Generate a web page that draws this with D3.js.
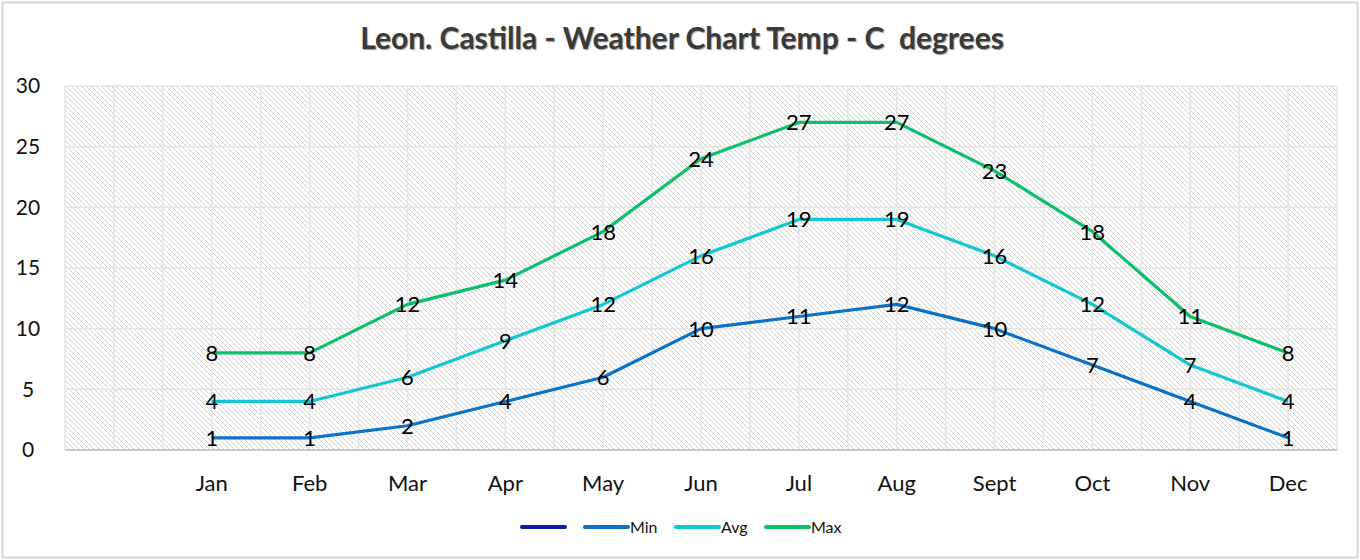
<!DOCTYPE html>
<html>
<head>
<meta charset="utf-8">
<script src="https://cdnjs.cloudflare.com/ajax/libs/d3/7.8.5/d3.min.js"></script>
<style>
  body { margin: 0; background: #fff; }
  svg { display: block; font-family: "Lato", "Open Sans", sans-serif; }
</style>
</head>
<body>
<div id="chart-container"></div>
<script>
// data
var months = ["", "Jan", "Feb", "Mar", "Apr", "May", "Jun", "Jul", "Aug", "Sept", "Oct", "Nov", "Dec"];
var minTemp = [1, 1, 2, 4, 6, 10, 11, 12, 10, 7, 4, 1];
var avgTemp = [4, 4, 6, 9, 12, 16, 19, 19, 16, 12, 7, 4];
var maxTemp = [8, 8, 12, 14, 18, 24, 27, 27, 23, 18, 11, 8];
var yTicks = [0, 5, 10, 15, 20, 25, 30];
var seriesNames = ["", "Min", "Avg", "Max"];
var seriesColors = ["#0a1fa8", "#0a72c8", "#12c7d0", "#0cbf6a"];

var width = 1360, height = 560;
var plotLeft = 65, plotRight = 1337, plotTop = 86, plotBottom = 450;
var font = "Lato, 'Open Sans', sans-serif";

var svg = d3.select("#chart-container").append("svg")
    .attr("width", width)
    .attr("height", height);

// outer frame
svg.append("rect")
    .attr("x", 2.5).attr("y", 2.5)
    .attr("width", width - 5).attr("height", height - 5)
    .attr("fill", "#fff")
    .attr("stroke", "#d4d4d4")
    .attr("stroke-width", 2);

// hatch fill for plot area
var defs = svg.append("defs");
var pat = defs.append("pattern")
    .attr("id", "hatch")
    .attr("patternUnits", "userSpaceOnUse")
    .attr("width", 5).attr("height", 5);
pat.append("rect").attr("width", 5).attr("height", 5).attr("fill", "#fff");
pat.append("path")
    .attr("d", "M-1,-1 L6,6 M-1,4 L1,6 M4,-1 L6,1")
    .attr("stroke", "#cbcbcb")
    .attr("stroke-width", 0.9);

var x = d3.scaleBand().domain(months).range([plotLeft, plotRight]).padding(0);
var y = d3.scaleLinear().domain([0, 30]).range([plotBottom, plotTop]);

svg.append("rect")
    .attr("x", plotLeft).attr("y", plotTop)
    .attr("width", plotRight - plotLeft).attr("height", plotBottom - plotTop)
    .attr("fill", "url(#hatch)");

// grid lines, vertical ones every half category
var half = [];
for (var i = 0; i <= months.length * 2; i++) half.push(plotLeft + i * x.bandwidth() / 2);
svg.append("g").selectAll("line")
    .data(half)
    .enter().append("line")
    .attr("x1", function(d) { return d; })
    .attr("x2", function(d) { return d; })
    .attr("y1", plotTop).attr("y2", plotBottom)
    .attr("stroke", "#e4e4e4")
    .attr("stroke-width", 1.5);

svg.append("g").selectAll("line")
    .data(yTicks)
    .enter().append("line")
    .attr("x1", plotLeft).attr("x2", plotRight)
    .attr("y1", function(d) { return y(d); })
    .attr("y2", function(d) { return y(d); })
    .attr("stroke", function(d) { return d === 0 ? "#c8c8c8" : "#e4e4e4"; })
    .attr("stroke-width", function(d) { return d === 0 ? 2 : 1.5; });

// axes
var yAxis = svg.append("g")
    .attr("transform", "translate(" + (plotLeft - 37) + ",0)")
    .call(d3.axisLeft(y).tickValues(yTicks).tickSize(0).tickPadding(0));
yAxis.select(".domain").remove();
yAxis.attr("font-family", font);
yAxis.selectAll("text")
    .attr("font-size", 21)
    .attr("fill", "#111")
    .attr("text-anchor", "middle")
    .attr("x", 0);

var xAxis = svg.append("g")
    .attr("transform", "translate(0," + plotBottom + ")")
    .call(d3.axisBottom(x).tickSize(0));
xAxis.select(".domain").remove();
xAxis.attr("font-family", font);
xAxis.selectAll("text")
    .attr("font-size", 22)
    .attr("fill", "#111")
    .attr("y", 0)
    .attr("dy", "1.85em");

// title
svg.append("text")
    .attr("x", 682).attr("y", 49)
    .attr("text-anchor", "middle")
    .attr("font-size", 30)
    .attr("font-weight", "bold")
    .attr("fill", "#3a3a3a")
    .style("white-space", "pre")
    .style("text-shadow", "1px 1px 1px #999")
    .text("Leon. Castilla - Weather Chart Temp - C  degrees");

// series
var series = [
  { name: "Min", values: minTemp, color: seriesColors[1] },
  { name: "Avg", values: avgTemp, color: seriesColors[2] },
  { name: "Max", values: maxTemp, color: seriesColors[3] }
];
var cx = function(d, i) { return x(months[i + 1]) + x.bandwidth() / 2; };

var line = d3.line()
    .x(cx)
    .y(function(d) { return y(d); });

series.forEach(function(s) {
  svg.append("path")
    .datum(s.values)
    .attr("d", line)
    .attr("fill", "none")
    .attr("stroke", s.color)
    .attr("stroke-width", 3.2)
    .attr("stroke-linejoin", "round");
});

series.forEach(function(s) {
  svg.append("g").selectAll("text")
    .data(s.values)
    .enter().append("text")
    .attr("x", cx)
    .attr("y", function(d) { return y(d); })
    .attr("dy", "0.36em")
    .attr("text-anchor", "middle")
    .attr("font-size", 22)
    .attr("fill", "#000")
    .text(function(d) { return d; });
});

// legend
var legendX = [522, 585, 676, 766];
var legend = svg.append("g").selectAll("g")
    .data(seriesNames)
    .enter().append("g")
    .attr("transform", function(d, i) { return "translate(" + legendX[i] + ",527)"; });
legend.append("line")
    .attr("x1", 0).attr("x2", 43)
    .attr("stroke", function(d, i) { return seriesColors[i]; })
    .attr("stroke-width", 4)
    .attr("stroke-linecap", "round");
legend.append("text")
    .attr("x", 45)
    .attr("dy", "0.35em")
    .attr("font-size", 16)
    .attr("fill", "#111")
    .text(function(d) { return d; });
</script>
</body>
</html>
